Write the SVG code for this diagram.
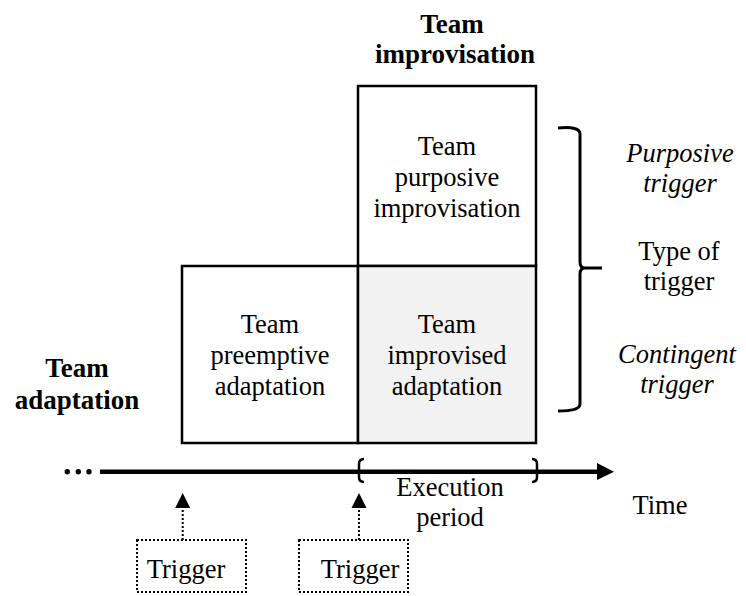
<svg xmlns="http://www.w3.org/2000/svg" width="746" height="596" viewBox="0 0 746 596">
<style>
text{font-family:"Liberation Serif","Times New Roman",serif;font-size:26.5px;fill:#000;text-anchor:middle}
.b{font-weight:bold;font-size:27px}
.i{font-style:italic}
.box{stroke:#000;stroke-width:2.5;fill:#fff}
.shade{fill:#f2f2f2}
.dot{stroke:#000;stroke-width:2;fill:none;stroke-dasharray:2 2}
.ln{stroke:#000;fill:none}
</style>
<g id="title-improvisation">
<text class="b" x="452" y="33">Team</text>
<text class="b" x="455" y="63">improvisation</text>
</g>
<g id="title-adaptation">
<text class="b" x="77" y="377">Team</text>
<text class="b" x="77" y="409">adaptation</text>
</g>
<g id="purposive-improvisation">
<rect class="box" x="358" y="86" width="178" height="180"/>
<text x="447" y="155">Team</text>
<text x="447" y="186">purposive</text>
<text x="447" y="217">improvisation</text>
</g>
<g id="preemptive-adaptation">
<rect class="box" x="182" y="266" width="176" height="177"/>
<text x="270" y="333">Team</text>
<text x="270" y="364">preemptive</text>
<text x="270" y="395">adaptation</text>
</g>
<g id="improvised-adaptation">
<rect class="box shade" x="358" y="266" width="178" height="177"/>
<text x="447" y="333">Team</text>
<text x="447" y="364">improvised</text>
<text x="447" y="395">adaptation</text>
</g>
<g id="trigger-type">
<path class="ln" stroke-width="3" d="M558,128 Q580,126 580,134 L580,262 Q580,268 585,268 L602,268 M585,268 Q580,268 580,274 L580,404 Q580,411 558,411"/>
<text class="i" x="680" y="162">Purposive</text>
<text class="i" x="680" y="192">trigger</text>
<text x="679" y="260">Type of</text>
<text x="679" y="290">trigger</text>
<text class="i" x="677" y="363">Contingent</text>
<text class="i" x="677" y="393">trigger</text>
</g>
<g id="timeline">
<circle cx="67.3" cy="471.7" r="2.7"/>
<circle cx="78.3" cy="471.7" r="2.7"/>
<circle cx="89" cy="471.7" r="2.7"/>
<line class="ln" x1="100" y1="471.7" x2="599" y2="471.7" stroke-width="4.5"/>
<polygon points="597,463 614,471.7 597,480"/>
<path class="ln" stroke-width="2.5" d="M364,459 Q359,459 359,464 L359,477 Q359,482 364,482"/>
<path class="ln" stroke-width="2.5" d="M532,459 Q537,459 537,464 L537,477 Q537,482 532,482"/>
<text x="450" y="496">Execution</text>
<text x="450" y="526">period</text>
<text x="660" y="514">Time</text>
</g>
<g id="trigger-1">
<rect class="dot" x="137" y="540" width="109" height="52"/>
<text x="186" y="578">Trigger</text>
</g>
<g id="trigger-2">
<rect class="dot" x="299" y="540" width="109" height="52"/>
<text x="360" y="578">Trigger</text>
</g>
<g id="connectors">
<line class="dot" x1="182.7" y1="540" x2="182.7" y2="507"/>
<polygon points="175.2,508 182.7,493 190.2,508"/>
<line class="dot" x1="359" y1="540" x2="359" y2="507"/>
<polygon points="351.5,508 359,493 366.5,508"/>
</g>
</svg>
